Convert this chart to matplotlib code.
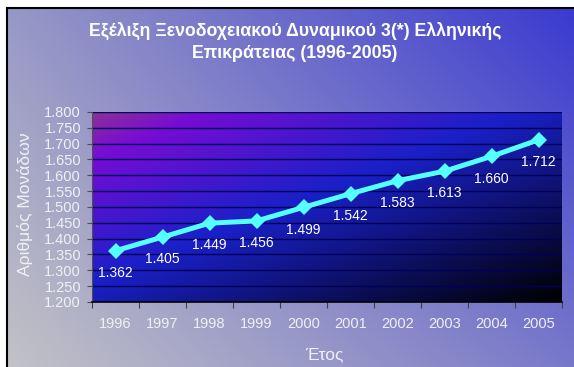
import numpy as np
import matplotlib
matplotlib.use("Agg")
import matplotlib.pyplot as plt
from matplotlib.ticker import FuncFormatter

plt.rcParams['font.family'] = ['Liberation Sans', 'DejaVu Sans']

# δεδομένα: μονάδες 3* ανά έτος
years = ['1996', '1997', '1998', '1999', '2000', '2001', '2002', '2003', '2004', '2005']
units = [1362, 1405, 1449, 1456, 1499, 1542, 1583, 1613, 1660, 1712]

title1 = 'Εξέλιξη Ξενοδοχειακού Δυναμικού 3(*) Ελληνικής'
title2 = 'Επικράτειας (1996-2005)'
ylabel = 'Αριθμός Μονάδων'
xlabel = 'Έτος'

W, H = 574, 367
BG = (7, 8, 574, 367)  # πλαίσιο γραφήματος σε pixels (x0, y0, x1, y1), y από πάνω


def fmt(v):
    return f"{int(v):,}".replace(',', '.')


def bg_grad(u0, u1, v0, v1, w=300, h=200):
    # γραμμική μίξη τεσσάρων γωνιών (u οριζόντια, v από πάνω)
    tl, tr, bl, br = [np.array(c, float) / 255 for c in
                      ((152, 152, 198), (58, 58, 208), (194, 194, 198), (120, 120, 202))]
    u = np.linspace(u0, u1, w)[None, :, None]
    v = np.linspace(v0, v1, h)[:, None, None]
    top = tl * (1 - u) + tr * u
    bot = bl * (1 - u) + br * u
    return top * (1 - v) + bot * v


def diagonal(stops, cols, h=200, w=300):
    u = np.linspace(0, 1, w)[None, :]
    v = np.linspace(0, 1, h)[:, None]
    t = (u + v) / 2
    cols = np.array(cols, float) / 255
    return np.stack([np.interp(t, stops, cols[:, k]) for k in range(3)], axis=-1)


def px_axes(x0, y0, x1, y1, **kw):
    return fig.add_axes([x0 / W, 1 - y1 / H, (x1 - x0) / W, (y1 - y0) / H], **kw)


fig = plt.figure(figsize=(W / 100, H / 100), dpi=100, facecolor='white')

# φόντο
bg = px_axes(*BG)
bg.imshow(bg_grad(0, 1, 0, 1), extent=[0, 1, 0, 1], aspect='auto', interpolation='bilinear')
bg.set_xlim(0, 1)
bg.set_ylim(0, 1)
bg.set_xticks([])
bg.set_yticks([])
for side in ('right', 'bottom'):
    bg.spines[side].set_visible(False)
for side in ('left', 'top'):
    bg.spines[side].set_linewidth(1.5)
    bg.spines[side].set_color('black')

ax = px_axes(92, 112, 562, 302)
ax.set_facecolor('none')
ax.imshow(diagonal([0, 0.12, 0.45, 1.0],
                   [(140, 50, 150), (118, 12, 212), (26, 32, 200), (0, 0, 0)]),
          extent=[0, 1, 0, 1], transform=ax.transAxes, aspect='auto',
          interpolation='bilinear', zorder=0)

x = np.arange(len(years))
ax.set_xlim(-0.5, len(years) - 0.5)
ax.set_ylim(1200, 1800)
ax.set_yticks(np.arange(1200, 1801, 50))
ax.yaxis.set_major_formatter(FuncFormatter(lambda v, p: fmt(v)))
ax.grid(axis='y', color='#00005a', linewidth=1, zorder=1)

ax.plot(x, units, color='#55ffff', linewidth=3.6, marker='D', markersize=8.5,
        markeredgewidth=0, zorder=3)
for xi, v in zip(x, units):
    ax.annotate(fmt(v), (xi, v), xytext=(0, -16), textcoords='offset points',
                ha='center', va='center', color='white', fontsize=10, zorder=4)

ax.set_xticks(np.arange(-0.5, len(years), 1))
ax.set_xticklabels([])
ax.set_xticks(x, minor=True)
ax.set_xticklabels(years, minor=True)
ax.tick_params(axis='x', which='major', direction='out', length=4, color='#404040')
ax.tick_params(axis='x', which='minor', length=0, pad=10.5, labelsize=10.5,
               labelcolor='#f0f0f4')
ax.tick_params(axis='y', direction='out', length=3.6, color='#505050', labelsize=10.5,
               labelcolor='#f0f0f4', pad=4.3)

ax.spines['top'].set_visible(False)
ax.spines['right'].set_visible(False)
ax.spines['left'].set_color('#505050')
ax.spines['bottom'].set_color('black')
ax.spines['bottom'].set_linewidth(1.2)

fig.text(295 / W, 1 - 36 / H, title1, ha='center', va='baseline', color='white',
         fontsize=12.8, fontweight='bold')
fig.text(295 / W, 1 - 58 / H, title2, ha='center', va='baseline', color='white',
         fontsize=12.8, fontweight='bold')
fig.text(324 / W, 1 - 355 / H, xlabel, ha='center', va='center', color='#f0f0f4',
         fontsize=12.5)
fig.text(25 / W, 1 - 276 / H, ylabel, rotation=90, ha='center', va='bottom',
         color='#f0f0f4', fontsize=12.6)

# ο τίτλος του άξονα y κόβεται στο πάνω μέρος
cut = px_axes(10, 90, 42, 132, zorder=5)
cut.imshow(bg_grad((10 - BG[0]) / (BG[2] - BG[0]), (42 - BG[0]) / (BG[2] - BG[0]),
                   (90 - BG[1]) / (BG[3] - BG[1]), (132 - BG[1]) / (BG[3] - BG[1]), 40, 50),
           extent=[0, 1, 0, 1], aspect='auto', interpolation='bilinear')
cut.set_axis_off()

fig.savefig('out.png', dpi=100, facecolor='white')
